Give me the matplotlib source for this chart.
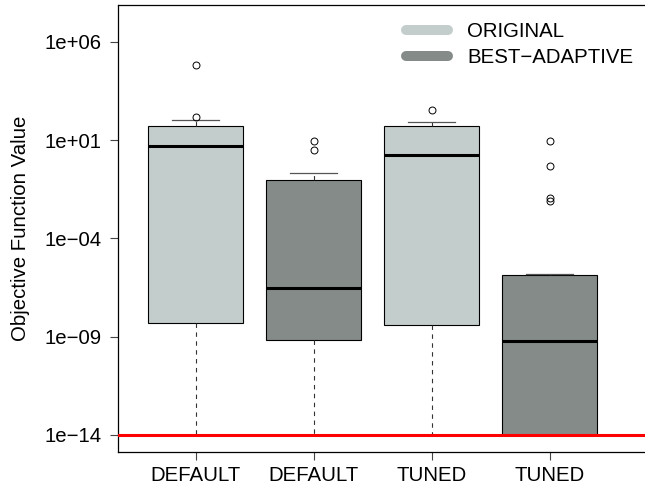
import numpy as np
import matplotlib
matplotlib.use('Agg')
import matplotlib.pyplot as plt
from matplotlib.lines import Line2D

# values, as log10 of the objective function value
labels = ['DEFAULT', 'DEFAULT', 'TUNED', 'TUNED']
groups = ['ORIGINAL', 'BEST\u2212ADAPTIVE', 'ORIGINAL', 'BEST\u2212ADAPTIVE']
log_med = [0.70, -6.51, 0.22, -9.20]
log_q1 = [-8.29, -9.18, -8.40, -14.0]
log_q3 = [1.73, -1.02, 1.70, -5.88]
log_whislo = [-14.0, -14.0, -14.0, -14.0]
log_whishi = [2.02, -0.66, 1.92, -5.83]
log_fliers = [[4.80, 2.16], [0.97, 0.49], [2.51], [0.95, -0.32, -1.96, -2.10]]
threshold = 1e-14

colors = {'ORIGINAL': '#c3cdcc', 'BEST\u2212ADAPTIVE': '#858b89'}

plt.rcParams['font.family'] = ['Liberation Sans', 'DejaVu Sans']
FS = 14.7

fig = plt.figure(figsize=(6.45, 4.88), dpi=100)
ax = fig.add_axes([117.7 / 645, 36.3 / 488, 540 / 645, 446.4 / 488])

stats = []
for i in range(len(labels)):
    stats.append({
        'med': 10 ** log_med[i],
        'q1': 10 ** log_q1[i],
        'q3': 10 ** log_q3[i],
        'whislo': 10 ** log_whislo[i],
        'whishi': 10 ** log_whishi[i],
        'fliers': 10 ** np.array(log_fliers[i]),
        'label': labels[i],
    })

positions = np.arange(1, len(labels) + 1)
bp = ax.bxp(stats, positions=positions, widths=0.8, patch_artist=True,
            boxprops=dict(edgecolor='black', linewidth=0.8),
            medianprops=dict(color='black', linewidth=2.2, solid_capstyle='butt'),
            whiskerprops=dict(color='#333333', linewidth=0.8, linestyle=(0, (4, 4))),
            capprops=dict(color='#555555', linewidth=0.9),
            capwidths=0.4,
            flierprops=dict(marker='o', markerfacecolor='none', markeredgecolor='black',
                            markersize=5, markeredgewidth=0.7))
for patch, g in zip(bp['boxes'], groups):
    patch.set_facecolor(colors[g])

ax.axhline(threshold, color='red', linewidth=2.2, zorder=5)

ax.set_yscale('log')
ax.set_ylim(10 ** -14.85, 10 ** 7.85)
ax.set_xlim(0.34, 4 + (658 - 550) / 118)
yt = [1e6, 1e1, 1e-4, 1e-9, 1e-14]
ax.set_yticks(yt)
ax.set_yticklabels(['1e+06', '1e+01', '1e\u221204', '1e\u221209', '1e\u221214'])
ax.yaxis.set_minor_locator(matplotlib.ticker.NullLocator())
ax.set_xticks(positions)
ax.set_xticklabels(labels)
ax.tick_params(axis='both', labelsize=FS, length=5.5, width=0.8, color='#444444')
ax.tick_params(axis='y', pad=6)
ax.tick_params(axis='x', pad=5)
for s in ax.spines.values():
    s.set_linewidth(0.9)

fig.text(21 / 645, 1 - 228.5 / 488, 'Objective Function Value', rotation=90,
         ha='center', va='center', fontsize=FS)

handles = [Line2D([], [], color=colors['ORIGINAL'], lw=7.2, solid_capstyle='round'),
           Line2D([], [], color=colors['BEST\u2212ADAPTIVE'], lw=7.2, solid_capstyle='round')]
ax.legend(handles, ['ORIGINAL', 'BEST\u2212ADAPTIVE'], loc='upper left',
          bbox_to_anchor=(0.533, 0.962), frameon=False, fontsize=FS,
          borderpad=0, borderaxespad=0, handlelength=2.08, handletextpad=0.93,
          labelspacing=0.33)

fig.savefig('out.png', dpi=100)
